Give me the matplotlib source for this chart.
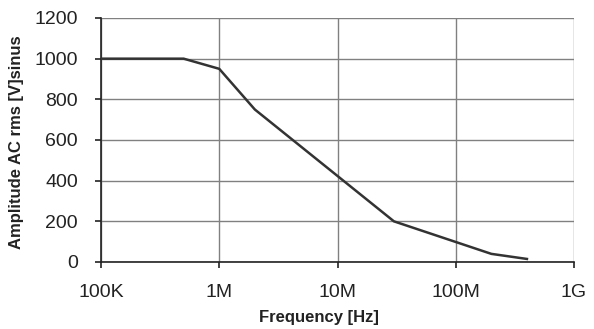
import matplotlib.pyplot as plt
from matplotlib.ticker import FixedLocator, NullLocator

plt.rcParams['font.family'] = ['Liberation Sans', 'DejaVu Sans']

# Derating curve: max sine amplitude vs frequency
freq_hz = [1e5, 2e5, 5e5, 1e6, 2e6, 3e7, 2e8, 4e8]
amplitude_v = [1000, 1000, 1000, 950, 750, 200, 40, 15]

x_ticks = [1e5, 1e6, 1e7, 1e8, 1e9]
x_labels = ['100K', '1M', '10M', '100M', '1G']
y_ticks = [0, 200, 400, 600, 800, 1000, 1200]

fig = plt.figure(figsize=(5.94, 3.29), dpi=100)
ax = fig.add_axes([101 / 594, 1 - 262 / 329, 473 / 594, 244 / 329])

ax.plot(freq_hz, amplitude_v, color='#333333', linewidth=1.8, zorder=3)

ax.set_xscale('log')
ax.set_xlim(1e5, 1e9)
ax.set_ylim(0, 1200)
ax.xaxis.set_major_locator(FixedLocator(x_ticks))
ax.xaxis.set_minor_locator(NullLocator())
ax.set_xticks(x_ticks)
ax.set_xticklabels(x_labels)
ax.set_yticks(y_ticks)

ax.grid(True, color='#808080', linewidth=1.0)
ax.set_axisbelow(True)
for side in ['top', 'right']:
    ax.spines[side].set_visible(False)
for side in ['left', 'bottom']:
    ax.spines[side].set_color('#222222')
    ax.spines[side].set_linewidth(1.2)

ax.tick_params(axis='both', direction='out', length=4.5, width=1.2,
               color='#222222', labelsize=14, labelcolor='#222222')
ax.tick_params(axis='x', pad=11)
ax.tick_params(axis='y', pad=12)

ax.set_xlabel('Frequency [Hz]', fontsize=12, fontweight='bold', color='#222222')
ax.set_ylabel('Amplitude AC rms [V]sinus', fontsize=12, fontweight='bold', color='#222222')
# label positions in axes fractions
ax.xaxis.set_label_coords(0.461, -0.197)
ax.yaxis.set_label_coords(-0.163, 0.49)

fig.savefig('out.png', dpi=100)
